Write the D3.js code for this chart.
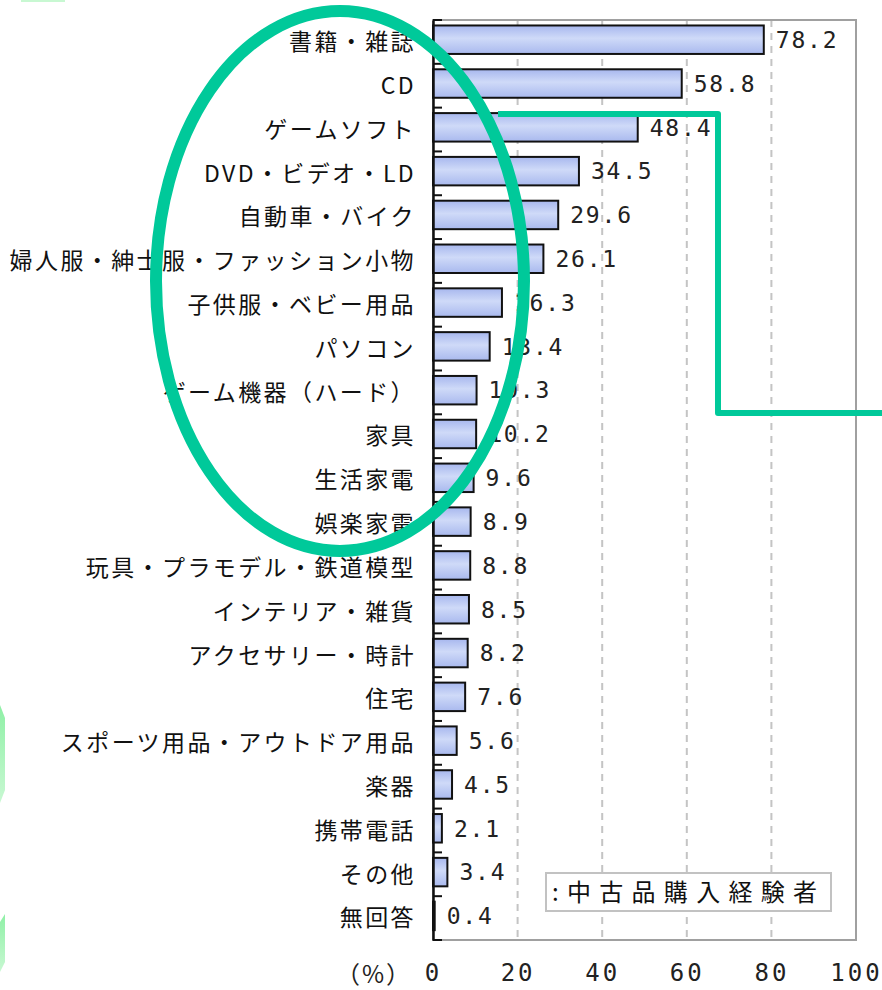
<!DOCTYPE html>
<html>
<head>
<meta charset="utf-8">
<script src="https://cdn.jsdelivr.net/npm/d3@7"></script>
<style>
  body { margin: 0; background: #fff; }
  svg { display: block; }
</style>
</head>
<body>
<div id="container"></div>
<script>
/* DATA */
const categories = [
  "書籍・雑誌", "CD", "ゲームソフト", "DVD・ビデオ・LD", "自動車・バイク",
  "婦人服・紳士服・ファッション小物", "子供服・ベビー用品", "パソコン",
  "ゲーム機器（ハード）", "家具", "生活家電", "娯楽家電",
  "玩具・プラモデル・鉄道模型", "インテリア・雑貨", "アクセサリー・時計",
  "住宅", "スポーツ用品・アウトドア用品", "楽器", "携帯電話", "その他", "無回答"
];
const values = [78.2, 58.8, 48.4, 34.5, 29.6, 26.1, 16.3, 13.4, 10.3, 10.2, 9.6,
  8.9, 8.8, 8.5, 8.2, 7.6, 5.6, 4.5, 2.1, 3.4, 0.4];
const xTicks = [0, 20, 40, 60, 80, 100];
const legendLabel = ":中古品購入経験者";
const unitLabel = "（%）";

const data = categories.map((c, i) => ({ cat: c, val: values[i] }));

/* CONSTANTS */
const width = 882, height = 990;
const plot = { left: 433, right: 856, top: 20, bottom: 940 };
const green = "#00c99a";

const svg = d3.select("#container").append("svg")
  .attr("width", width)
  .attr("height", height);

svg.append("rect").attr("width", width).attr("height", height).attr("fill", "#fff");

// gradient for bars
const defs = svg.append("defs");
const grad = defs.append("linearGradient")
  .attr("id", "barGrad").attr("x1", 0).attr("y1", 0).attr("x2", 0).attr("y2", 1);
grad.append("stop").attr("offset", "0%").attr("stop-color", "#a7b7ee");
grad.append("stop").attr("offset", "45%").attr("stop-color", "#cfdaf8");
grad.append("stop").attr("offset", "100%").attr("stop-color", "#a9b9ee");

const lg = defs.append("linearGradient")
  .attr("id", "lightGreen").attr("x1", 0).attr("y1", 0).attr("x2", 0).attr("y2", 1);
lg.append("stop").attr("offset", "0%").attr("stop-color", "#8ff0a6");
lg.append("stop").attr("offset", "100%").attr("stop-color", "#c8f8d2");

/* SCALES */
const xScale = d3.scaleLinear().domain([0, 100]).range([plot.left, plot.right]);
const yScale = d3.scaleBand().domain(categories).range([plot.top, plot.bottom]);
const bw = yScale.bandwidth();

// gridlines (dashed)
svg.append("g").selectAll("line")
  .data(xTicks.filter(t => t > 0 && t < 100))
  .join("line")
  .attr("x1", d => xScale(d)).attr("x2", d => xScale(d))
  .attr("y1", plot.top).attr("y2", plot.bottom)
  .attr("stroke", "#c4c4c4")
  .attr("stroke-width", 2)
  .attr("stroke-dasharray", "7,6");

// frame
svg.append("rect")
  .attr("x", plot.left).attr("y", plot.top)
  .attr("width", plot.right - plot.left).attr("height", plot.bottom - plot.top)
  .attr("fill", "none").attr("stroke", "#a0a0a0").attr("stroke-width", 2);

// legend box
svg.append("rect")
  .attr("x", 546).attr("y", 873).attr("width", 285).attr("height", 38)
  .attr("fill", "#fff").attr("stroke", "#c2c2c2").attr("stroke-width", 2);
svg.append("text")
  .attr("x", 552).attr("y", 892).attr("dy", "0.36em")
  .attr("font-family", "'Noto Sans CJK JP', sans-serif")
  .attr("font-size", 24).attr("letter-spacing", 8.3)
  .attr("fill", "#111")
  .text(legendLabel);

// bars
svg.append("g").selectAll("rect")
  .data(data)
  .join("rect")
  .attr("x", xScale(0))
  .attr("y", d => yScale(d.cat) + bw * 0.125)
  .attr("width", d => xScale(d.val) - xScale(0))
  .attr("height", bw * 0.65)
  .attr("fill", "url(#barGrad)")
  .attr("stroke", "#111")
  .attr("stroke-width", 2);

// value labels
svg.append("g").selectAll("text")
  .data(data)
  .join("text")
  .attr("x", d => xScale(d.val) + 12)
  .attr("y", d => yScale(d.cat) + bw * 0.45)
  .attr("dy", "0.36em")
  .attr("font-family", "'DejaVu Sans Mono', monospace")
  .attr("font-size", 23)
  .attr("letter-spacing", 1.8)
  .attr("fill", "#222")
  .text(d => d.val.toFixed(1));

// left axis with category labels
const yAxis = d3.axisLeft(yScale).tickSize(0).tickPadding(17);
const yAxisGroup = svg.append("g")
  .attr("transform", `translate(${plot.left},0)`)
  .call(yAxis);
yAxisGroup.select(".domain").attr("stroke", "#111").attr("stroke-width", 2.5);
yAxisGroup.selectAll("text")
  .attr("font-family", "'Noto Sans CJK JP', sans-serif")
  .attr("font-size", 23)
  .attr("letter-spacing", 2.4)
  .attr("fill", "#111")
  .attr("dy", "0.36em");

// inward ticks at band boundaries
const bounds = categories.map(c => yScale(c)).concat([plot.bottom]);
svg.append("g").selectAll("line")
  .data(bounds)
  .join("line")
  .attr("x1", plot.left).attr("x2", plot.left + 9)
  .attr("y1", d => d).attr("y2", d => d)
  .attr("stroke", "#111").attr("stroke-width", 2);

// bottom axis labels
const xAxis = d3.axisBottom(xScale).tickValues(xTicks).tickSize(0).tickPadding(0);
const xAxisGroup = svg.append("g")
  .attr("transform", `translate(0,964)`)
  .call(xAxis);
xAxisGroup.select(".domain").remove();
xAxisGroup.selectAll("text")
  .attr("font-family", "'DejaVu Sans Mono', monospace")
  .attr("font-size", 24)
  .attr("letter-spacing", 3)
  .attr("fill", "#222");

svg.append("text")
  .attr("x", 374).attr("y", 974).attr("dy", "0.36em")
  .attr("text-anchor", "middle")
  .attr("font-family", "'Noto Sans CJK JP', sans-serif")
  .attr("font-size", 24)
  .attr("letter-spacing", 2)
  .attr("fill", "#222")
  .text(unitLabel);

// green annotations
svg.append("ellipse")
  .attr("cx", 340).attr("cy", 281)
  .attr("rx", 184).attr("ry", 270)
  .attr("fill", "none").attr("stroke", green).attr("stroke-width", 12);

svg.append("path")
  .attr("d", d3.line()([[498, 114], [718, 114], [718, 413], [882, 413]]))
  .attr("fill", "none").attr("stroke", green).attr("stroke-width", 6)
  .attr("stroke-linejoin", "round");

// faint green fragments along the edges
svg.append("path")
  .attr("d", "M0,705 L5,718 L5,790 L0,803 Z").attr("fill", "url(#lightGreen)");
svg.append("path")
  .attr("d", "M0,922 L5,914 L5,962 L0,972 Z").attr("fill", "url(#lightGreen)");
svg.append("rect").attr("x", 21).attr("y", 0).attr("width", 44).attr("height", 2)
  .attr("fill", "#c8f8d2");
</script>
</body>
</html>
